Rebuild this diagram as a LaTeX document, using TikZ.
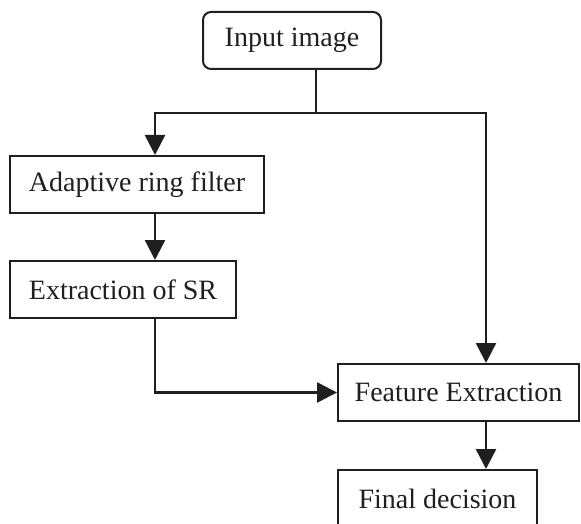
\documentclass[tikz,border=0pt]{standalone}
\usepackage{fontspec}
\setmainfont{Liberation Serif}
\usetikzlibrary{arrows.meta}
\begin{document}
\begin{tikzpicture}[x=1pt,y=-1pt,
  ink/.style={draw=black!88, text=black!88},
  block/.style={ink, line width=2pt, inner sep=0pt, minimum height=57pt,
    font=\fontsize{28}{33}\selectfont},
  roundblock/.style={block, rounded corners=8pt},
  link/.style={draw=black!88, line width=2.5pt},
  flow/.style={link, -{Triangle[length=20pt,width=20pt]}}]
\useasboundingbox (0,0) rectangle (581,524);
\clip (0,0) rectangle (581,524);

% processing blocks
\node[roundblock, minimum width=178pt] (inp) at (292,40.5) {Input image};
\node[block, minimum width=254pt] (arf) at (137,184.5) {Adaptive ring filter};
\node[block, minimum width=226pt] (esr) at (123,289.5) {Extraction of SR};
\node[block, minimum width=241pt] (fe) at (458.5,392.5) {Feature Extraction};
\node[block, minimum width=199pt] (fd) at (437.5,498.5) {Final decision};

% branch points of the split below the input
\coordinate (jc) at (316,113);
\coordinate (jl) at (155,113);
\coordinate (jr) at (486,113);

% connectors
\draw[link] (inp.south -| jc) -- (jc);
\draw[flow] (jc) -- (jl) -- (arf.north -| jl);
\draw[flow] (jc) -- (jr) -- (fe.north -| jr);
\draw[flow] (arf.south -| jl) -- (esr.north -| jl);
\draw[flow] (esr.south -| jl) |- (fe.west);
\draw[flow] (fe.south -| jr) -- (fd.north -| jr);
\end{tikzpicture}
\end{document}
